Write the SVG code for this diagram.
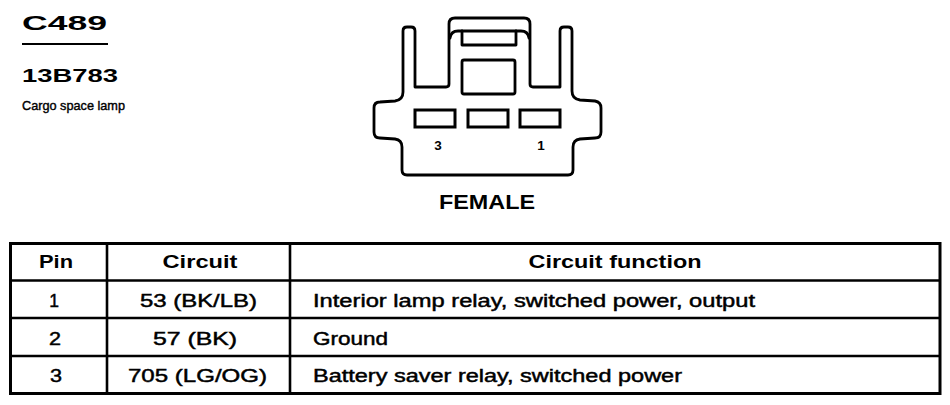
<svg xmlns="http://www.w3.org/2000/svg" width="950" height="405" viewBox="0 0 950 405">
<style>
text{font-family:"Liberation Sans",Arial,sans-serif;fill:#000}
.b{font-weight:bold}
.ln{fill:none;stroke:#000;stroke-width:2.8;stroke-linejoin:round;stroke-linecap:round}
.pin{fill:#fff;stroke:#000;stroke-width:3}
.tb{fill:none;stroke:#000;stroke-width:3}
.tl{stroke:#000;stroke-width:2.6}
.h{font-size:17.5px;font-weight:bold}
.r{font-size:17.5px;stroke:#000;stroke-width:0.45}
.s{stroke:#000;stroke-width:0.4}
</style>
<rect width="950" height="405" fill="#fff"/>
<g id="title">
<text class="b" x="22" y="30" font-size="21" textLength="85" lengthAdjust="spacingAndGlyphs">C489</text>
<line x1="22" y1="44" x2="108" y2="44" stroke="#000" stroke-width="2"/>
<text class="b" x="22" y="82" font-size="19" textLength="96" lengthAdjust="spacingAndGlyphs">13B783</text>
<text class="s" x="22" y="110" font-size="13" textLength="103" lengthAdjust="spacingAndGlyphs">Cargo space lamp</text>
</g>
<g id="connector">
<path class="ln" d="M403,92 L403,31 Q403,27 407,27 L411,27 Q415,27 415,31 L415,87 L446,87 Q449,87 449,84 L449,24 Q449,18 455,18 L524,18 Q530,18 530,24 L530,84 Q530,87 533,87 L560,87 L560,31 Q560,27 564,27 L568,27 Q572,27 572,31 L572,91 Q572,99 580,100 L595,101 Q601,102 601,108 L601,132 Q601,138 595,138 L580,139 Q573,140 573,147 L573,170 Q573,175 568,175 L407,175 Q402,175 402,170 L402,147 Q402,140 395,139 L380,138 Q374,138 374,132 L374,108 Q374,102 380,102 L395,101 Q403,100 403,92 Z"/>
<path class="ln" d="M450,38 Q451,31 458,31 L521,31 Q528,31 529,38"/>
<path class="ln" d="M462,31 L462,45 L516,45 L516,31"/>
<rect class="ln" x="462" y="60" width="53" height="34" rx="2"/>
<rect class="pin" x="415" y="110" width="40" height="17"/>
<rect class="pin" x="468" y="110" width="40" height="17"/>
<rect class="pin" x="520" y="110" width="40" height="17"/>
<text class="b" x="438" y="150" font-size="13.5" text-anchor="middle">3</text>
<text class="b" x="541" y="150" font-size="13.5" text-anchor="middle">1</text>
<text class="b" x="487" y="209" font-size="20" text-anchor="middle" textLength="96" lengthAdjust="spacingAndGlyphs">FEMALE</text>
</g>
<g id="table">
<rect class="tb" x="10.5" y="243.5" width="929.5" height="150"/>
<line class="tl" x1="10" y1="280.5" x2="940" y2="280.5"/>
<line class="tl" x1="10" y1="318" x2="940" y2="318"/>
<line class="tl" x1="10" y1="356" x2="940" y2="356"/>
<line class="tl" x1="107" y1="243" x2="107" y2="394"/>
<line class="tl" x1="290" y1="243" x2="290" y2="394"/>
<text class="h" x="56" y="268" text-anchor="middle" textLength="34" lengthAdjust="spacingAndGlyphs">Pin</text>
<text class="h" x="200" y="268" text-anchor="middle" textLength="75" lengthAdjust="spacingAndGlyphs">Circuit</text>
<text class="h" x="615" y="268" text-anchor="middle" textLength="173" lengthAdjust="spacingAndGlyphs">Circuit function</text>
<text class="r" x="54" y="307" text-anchor="middle">1</text>
<text class="r" x="198.5" y="307" text-anchor="middle" textLength="117" lengthAdjust="spacingAndGlyphs">53 (BK/LB)</text>
<text class="r" x="313" y="307" textLength="442" lengthAdjust="spacingAndGlyphs">Interior lamp relay, switched power, output</text>
<text class="r" x="55" y="344.5" text-anchor="middle" textLength="12" lengthAdjust="spacingAndGlyphs">2</text>
<text class="r" x="195" y="344.5" text-anchor="middle" textLength="84" lengthAdjust="spacingAndGlyphs">57 (BK)</text>
<text class="r" x="313" y="344.5" textLength="75" lengthAdjust="spacingAndGlyphs">Ground</text>
<text class="r" x="56" y="382" text-anchor="middle" textLength="12" lengthAdjust="spacingAndGlyphs">3</text>
<text class="r" x="197.5" y="382" text-anchor="middle" textLength="139" lengthAdjust="spacingAndGlyphs">705 (LG/OG)</text>
<text class="r" x="313" y="382" textLength="369" lengthAdjust="spacingAndGlyphs">Battery saver relay, switched power</text>
</g>
</svg>
